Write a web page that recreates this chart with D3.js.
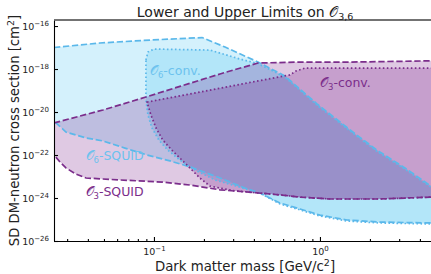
<!DOCTYPE html>
<html>
<head>
<meta charset="utf-8">
<script src="https://cdn.jsdelivr.net/npm/d3@7"></script>
<style>
  body { margin: 0; background: #fff; }
  svg { font-family: "DejaVu Sans", sans-serif; }
</style>
</head>
<body>
<div id="container"></div>
<script>
// masses in GeV/c^2, cross sections in cm^2
const o6SquidUpperMass = [0.025, 0.0473, 0.0946, 0.195, 0.268, 0.423, 0.615, 0.959, 1.52, 2.2, 3.25, 4.66, 5.0];
const o6SquidUpperSig  = [1.0e-17, 1.62e-17, 2.23e-17, 2.9e-17, 1.05e-17, 2.12e-18, 4.7e-19, 2.4e-20, 1.46e-21, 1.7e-22, 2.5e-23, 3.6e-24, 2.6e-24];
const o6SquidLowerMass = [0.025, 0.0295, 0.039, 0.0493, 0.0669, 0.0908, 0.125, 0.165, 0.25, 0.353, 0.435, 0.574, 0.758, 1.0, 1.455, 2.3, 4.66, 5.0];
const o6SquidLowerSig  = [3.8e-21, 1.17e-21, 6.2e-22, 4.5e-22, 2.1e-22, 1.0e-22, 5.3e-23, 2.8e-23, 8.5e-24, 2.9e-24, 1.7e-24, 5.9e-25, 3.1e-25, 1.6e-25, 9.5e-26, 7.6e-26, 6.9e-26, 6.9e-26];

const o6ConvUpperMass = [0.0895, 0.092, 0.1, 0.2175, 0.33, 0.423, 0.615, 0.959, 1.52, 2.2, 3.25, 4.66, 5.0];
const o6ConvUpperSig  = [2.6e-18, 6.2e-18, 8.5e-18, 7.6e-18, 2.9e-18, 1.8e-18, 4.2e-19, 2.1e-20, 1.3e-21, 1.5e-22, 2.2e-23, 3.2e-24, 2.4e-24];
const o6ConvLowerMass = [0.0895, 0.092, 0.0973, 0.107, 0.121, 0.143, 0.177, 0.233, 0.33, 0.447, 0.574, 0.758, 1.0, 1.455, 2.3, 4.66, 5.0];
const o6ConvLowerSig  = [3.6e-20, 7.2e-21, 1.8e-21, 5.0e-22, 1.7e-22, 5.9e-23, 2.0e-23, 6.9e-24, 3.2e-24, 1.5e-24, 5.3e-25, 2.8e-25, 1.46e-25, 8.5e-26, 6.9e-26, 6.2e-26, 6.2e-26];

const o3SquidUpperMass = [0.025, 0.0493, 0.0895, 0.145, 0.25, 0.423, 0.758, 1.52, 4.66, 5.0];
const o3SquidUpperSig  = [3.1e-21, 1.24e-20, 5.0e-20, 1.6e-19, 5.9e-19, 1.9e-18, 2.1e-18, 2.1e-18, 2.4e-18, 2.4e-18];
const o3SquidLowerMass = [0.025, 0.0272, 0.0295, 0.0339, 0.039, 0.0624, 0.113, 0.165, 0.25, 0.395, 0.574, 0.758, 1.15, 2.3, 4.66, 5.0];
const o3SquidLowerSig  = [1.0e-22, 4.7e-23, 2.5e-23, 1.3e-23, 8.5e-24, 6.9e-24, 5.5e-24, 4.0e-24, 2.4e-24, 1.8e-24, 1.4e-24, 1.1e-24, 9.0e-25, 9.0e-25, 1.1e-24, 1.1e-24];

const o3ConvUpperMass = [0.0908, 0.189, 0.423, 0.66, 0.717, 0.812, 1.52, 4.66, 5.0];
const o3ConvUpperSig  = [2.9e-20, 8.5e-20, 2.8e-19, 5.3e-19, 8.1e-19, 1.1e-18, 1.1e-18, 1.1e-18, 1.1e-18];
const o3ConvLowerMass = [0.0908, 0.0959, 0.103, 0.113, 0.128, 0.156, 0.189, 0.2175, 0.299, 0.395, 0.574, 0.758, 1.15, 2.3, 4.66, 5.0];
const o3ConvLowerSig  = [2.9e-20, 7.2e-21, 1.8e-21, 5.0e-22, 1.7e-22, 3.8e-23, 8.5e-24, 3.6e-24, 2.2e-24, 1.8e-24, 1.4e-24, 1.1e-24, 9.0e-25, 9.0e-25, 1.1e-24, 1.1e-24];

const xMajorTicks = [0.1, 1];
const xMinorTicks = [0.03, 0.04, 0.05, 0.06, 0.07, 0.08, 0.09, 0.2, 0.3, 0.4, 0.5, 0.6, 0.7, 0.8, 0.9, 2, 3, 4];
const yTicks = [1e-16, 1e-18, 1e-20, 1e-22, 1e-24, 1e-26];

const width = 431, height = 274;
const plot = { left: 54, right: 436, top: 20, bottom: 241 };

const blue = "#5bb8ea", purple = "#7b2d8b";

const svg = d3.select("#container").append("svg")
  .attr("width", width).attr("height", height);

const x = d3.scaleLog().domain([0.025, 5]).range([plot.left, plot.right]);
const y = d3.scaleLog().domain([1e-26, Math.pow(10, -15.72)]).range([plot.bottom, plot.top]);

svg.append("clipPath").attr("id", "clip")
  .append("rect")
  .attr("x", plot.left).attr("y", plot.top)
  .attr("width", plot.right - plot.left).attr("height", plot.bottom - plot.top);

function region(um, us, lm, ls) {
  const up = um.map((m, i) => [m, us[i]]);
  const lo = lm.map((m, i) => [m, ls[i]]).reverse();
  return up.concat(lo);
}

const regions = [
  { pts: region(o6SquidUpperMass, o6SquidUpperSig, o6SquidLowerMass, o6SquidLowerSig), fill: "rgb(71,195,242)", stroke: blue, dash: "6.3,2.7" },
  { pts: region(o6ConvUpperMass, o6ConvUpperSig, o6ConvLowerMass, o6ConvLowerSig), fill: "rgb(71,195,242)", stroke: blue, dash: "1.6,2.4" },
  { pts: region(o3SquidUpperMass, o3SquidUpperSig, o3SquidLowerMass, o3SquidLowerSig), fill: "rgb(118,20,136)", stroke: purple, dash: "6.3,2.7" },
  { pts: region(o3ConvUpperMass, o3ConvUpperSig, o3ConvLowerMass, o3ConvLowerSig), fill: "rgb(118,20,136)", stroke: purple, dash: "1.6,2.4" },
];

const line = d3.line().x(d => x(d[0])).y(d => y(d[1]));

const g = svg.append("g").attr("clip-path", "url(#clip)");

g.selectAll("path.fill")
  .data(regions)
  .join("path")
  .attr("class", "fill")
  .attr("d", d => line(d.pts) + "Z")
  .attr("fill", d => d.fill)
  .attr("fill-opacity", 0.23)
  .attr("stroke", "none");

g.selectAll("path.edge")
  .data(regions)
  .join("path")
  .attr("class", "edge")
  .attr("d", d => line(d.pts) + "Z")
  .attr("fill", "none")
  .attr("stroke", d => d.stroke)
  .attr("stroke-width", 1.7)
  .attr("stroke-dasharray", d => d.dash);

// labels
const labels = [
  { x: 0.0946, y: 5.0e-19, sub: "6", rest: "-conv.", color: "#6cc2ee" },
  { x: 1.0, y: 1.5e-19, sub: "3", rest: "-conv.", color: purple },
  { x: 0.0387, y: 5.9e-23, sub: "6", rest: "-SQUID", color: "#6cc2ee" },
  { x: 0.0387, y: 1.2e-24, sub: "3", rest: "-SQUID", color: purple },
];
labels.forEach(l => {
  const t = svg.append("text")
    .attr("x", x(l.x)).attr("y", y(l.y))
    .attr("fill", l.color)
    .style("font-size", "12.5px");
  t.append("tspan").text("\u{1D4AA}");
  t.append("tspan").attr("dy", 3).style("font-size", "8.5px").text(l.sub);
  t.append("tspan").attr("dy", -3).text(l.rest);
});

// axes
const expText = v => String(Math.round(Math.log10(v))).replace("-", "\u2212");

const xAxis = svg.append("g")
  .attr("transform", `translate(0,${plot.bottom})`)
  .call(d3.axisBottom(x).tickValues(xMajorTicks).tickSize(-4).tickSizeOuter(0).tickPadding(7));
xAxis.selectAll(".tick text").each(function (d) {
  const t = d3.select(this).text("");
  t.append("tspan").text("10");
  t.append("tspan").attr("dy", -4).style("font-size", "7px").text(expText(d));
});
svg.append("g")
  .attr("transform", `translate(0,${plot.bottom})`)
  .call(d3.axisBottom(x).tickValues(xMinorTicks).tickSize(-2).tickSizeOuter(0).tickFormat(""))
  .select(".domain").remove();

const yAxis = svg.append("g")
  .attr("transform", `translate(${plot.left},0)`)
  .call(d3.axisLeft(y).tickValues(yTicks).tickSize(-4).tickSizeOuter(0).tickPadding(5));
yAxis.selectAll(".tick text").each(function (d) {
  const t = d3.select(this).text("");
  t.append("tspan").text("10");
  t.append("tspan").attr("dy", -4).style("font-size", "7px").text(expText(d));
});

svg.selectAll(".tick text").style("font-size", "9.5px").attr("fill", "#222").style("font-family", "DejaVu Sans");
svg.selectAll(".domain, .tick line").attr("stroke", "#000").attr("stroke-width", 1.1);

svg.append("line")
  .attr("x1", plot.left).attr("x2", plot.right)
  .attr("y1", plot.top).attr("y2", plot.top)
  .attr("stroke", "#444").attr("stroke-width", 1.4);

// titles
const title = svg.append("text")
  .attr("x", (plot.left + plot.right) / 2).attr("y", 16.5)
  .attr("text-anchor", "middle")
  .style("font-size", "14px").attr("fill", "#222");
title.append("tspan").text("Lower and Upper Limits on ");
title.append("tspan").text("\u{1D4AA}");
title.append("tspan").attr("dy", 3).style("font-size", "9.5px").text("3,6");

const xl = svg.append("text")
  .attr("x", (plot.left + plot.right) / 2).attr("y", 271)
  .attr("text-anchor", "middle")
  .style("font-size", "13.3px").attr("fill", "#222");
xl.append("tspan").text("Dark matter mass [GeV/c");
xl.append("tspan").attr("dy", -5).style("font-size", "9.5px").text("2");
xl.append("tspan").attr("dy", 5).text("]");

const yl = svg.append("text")
  .attr("transform", `translate(19,${(plot.top + plot.bottom) / 2}) rotate(-90)`)
  .attr("text-anchor", "middle")
  .style("font-size", "13.2px").attr("fill", "#222");
yl.append("tspan").text("SD DM-neutron cross section [cm");
yl.append("tspan").attr("dy", -5).style("font-size", "9.5px").text("2");
yl.append("tspan").attr("dy", 5).text("]");
</script>
</body>
</html>
